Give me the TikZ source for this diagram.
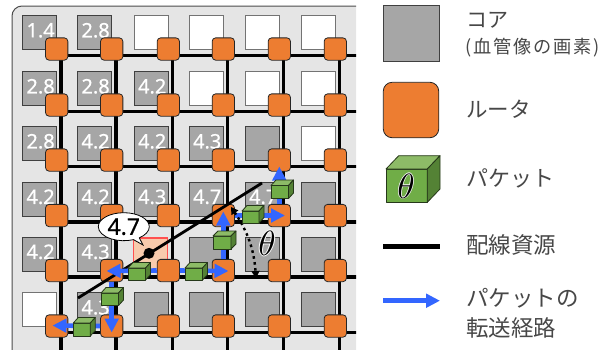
\documentclass[tikz,border=0pt]{standalone}
\usepackage{fontspec}
\setmainfont{Noto Sans}
\newfontfamily\numfont[FakeBold=0.6]{Noto Sans}
\newfontfamily\jpfont{Noto Sans CJK JP}
\newfontfamily\jpwide[LetterSpace=10]{Noto Sans CJK JP}
\usetikzlibrary{arrows.meta,shapes.callouts,shapes.geometric}
\definecolor{rorange}{HTML}{ED7D31}
\definecolor{coregray}{HTML}{A6A6A6}
\definecolor{pblue}{HTML}{3366FF}
\definecolor{hotfill}{HTML}{F8CBAD}
\definecolor{hotline}{HTML}{FF5050}
\definecolor{cubefront}{HTML}{70AD47}
\definecolor{cubetop}{HTML}{8DBB67}
\definecolor{cubeside}{HTML}{548235}
\definecolor{cubeline}{HTML}{26381A}
\tikzset{
  corebox/.style={draw=black!75,line width=0.9pt,fill=coregray,minimum size=34pt,inner sep=0pt,anchor=north west,
    text=white,font=\numfont\fontsize{20}{20}\selectfont},
  freecore/.style={corebox,fill=white,draw=black!55},
  hotcore/.style={corebox,fill=hotfill,draw=hotline,line width=1.6pt},
  router/.style={draw=black!85,line width=0.8pt,fill=rorange,rounded corners=3.5pt,minimum size=22.3pt,inner sep=0pt},
  wire/.style={line width=3.4pt,black},
  diag/.style={line width=2.8pt,black},
  route/.style={line width=4.6pt,pblue,-{Triangle[length=14pt,width=13.5pt]}},
  angle/.style={line width=2.4pt,black,dash pattern=on 2.6pt off 3.4pt,{Triangle[length=7pt,width=8pt]}-{Triangle[length=7pt,width=8pt]}},
  jp/.style={anchor=west,inner sep=0pt,text=black!72,font=\jpfont\fontsize{#1}{#1}\selectfont},
  pics/cube/.style n args={4}{code={
    \draw[draw=cubeline,line width=0.8pt,line join=round,fill=cubefront] (0,0) rectangle (#1,#2);
    \draw[draw=cubeline,line width=0.8pt,line join=round,fill=cubetop] (0,0) -- (#3,-#4) -- (#1+#3,-#4) -- (#1,0) -- cycle;
    \draw[draw=cubeline,line width=0.8pt,line join=round,fill=cubeside] (#1,0) -- (#1+#3,-#4) -- (#1+#3,#2-#4) -- (#1,#2) -- cycle;
  }}
}
\newcommand{\xc}[1]{\ifcase#1\or56.7\or111.7\or168.3\or223.3\or279.3\or335.3\fi}
\newcommand{\yc}[1]{\ifcase#1\or49\or105\or160\or215.5\or270.5\or326\fi}
\begin{document}
\begin{tikzpicture}[x=1pt,y=-1pt]
\useasboundingbox (0,0) rectangle (604,349);
\begin{scope}
\clip (0,0) rectangle (356,349);
\draw[draw=black!70,line width=1pt,fill=black!10,rounded corners=10pt] (12,6) rectangle (420,420);
% cores
\foreach \c/\r/\t in {1/1/1.4,2/1/2.8,1/2/2.8,2/2/2.8,3/2/4.2,1/3/2.8,2/3/4.2,3/3/4.2,4/3/4.3,5/3/,
  1/4/4.2,2/4/4.2,3/4/4.3,4/4/4.7,5/4/4.7,6/4/,1/5/4.2,2/5/4.3,4/5/,5/5/,6/5/,2/6/4.3,3/6/,4/6/,5/6/,6/6/}
  \node[corebox] (core\c\r) at ({\xc{\c}-34.3},{\yc{\r}-34}) {\raisebox{4.5pt}{\hspace{1.5pt}\t}};
\foreach \c/\r in {3/1,4/1,5/1,6/1,4/2,5/2,6/2,6/3,1/6}
  \node[freecore] (core\c\r) at ({\xc{\c}-34.3},{\yc{\r}-34}) {};
\node[hotcore] (core35) at (132.6,237) {};
% wires
\foreach \c in {1,...,6}
  \draw[wire] ({\xc{\c}+4.4},{\yc{1}}) -- ({\xc{\c}+4.4},352);
\foreach \r in {1,...,6}
  \draw[wire] ({\xc{1}},{\yc{\r}+6.5}) -- (360,{\yc{\r}+6.5});
% routers
\foreach \c in {1,...,6}
  \foreach \r in {1,...,6}
    \node[router] (r\c\r) at ({\xc{\c}},{\yc{\r}}) {};
% black line through the pixel
\coordinate (lineA) at (78,298);
\coordinate (lineB) at (262,183);
\draw[diag] (lineA) -- (lineB);
\node[circle,fill=black,minimum size=11pt,inner sep=0pt] (pt) at (149,253.3) {};
% angle
\coordinate (angA) at (231,207);
\coordinate (angB) at (256,278);
% routes
\coordinate (tipL) at (106.5,271);
\coordinate (tipR) at (228.5,271);
\coordinate (tipU) at (223.3,211.5);
\coordinate (tipR2) at (285,215.5);
\coordinate (tipU2) at (279.3,166.5);
\coordinate (tipD) at (111.7,332.5);
\coordinate (tipL2) at (52.5,325.5);
\draw[route] (r35.west) -- (tipL);
\draw[route] (r35.east) -- (tipR);
\draw[route] (r45.north) -- (tipU);
\draw[route] (r44.east) -- (tipR2);
\draw[route] (r54.north) -- (tipU2);
\draw[route] (r25.south) -- (tipD);
\draw[route] (r26.west) -- (tipL2);
\draw[angle] (angA) .. controls (248,232) and (254,250) .. (angB);
% packets
\pic at (128,268) {cube={17.5}{12}{5}{5.5}};
\pic at (185,268) {cube={17.5}{12}{5}{5.5}};
\pic at (213,236) {cube={18}{13}{5}{5}};
\pic at (242,211) {cube={17}{12}{5}{5.5}};
\pic at (271,185.5) {cube={17.5}{13}{5}{5.5}};
\pic at (101,293) {cube={17.5}{12.5}{5}{5.5}};
\pic at (73.3,323) {cube={17}{13}{5}{5.5}};
% bubble
\node[ellipse callout,draw=black,line width=0.8pt,fill=white,minimum width=51pt,minimum height=28pt,inner sep=0pt,
  callout absolute pointer={(143,245)},font=\numfont\fontsize{23}{23}\selectfont] (bubble) at (123.8,226.7) {4.7};
% theta
\node[scale=3.5,inner sep=0pt,text=white] (thetaH1) at (266,243) {$\theta$};
\node[scale=3.5,inner sep=0pt,text=white] (thetaH2) at (268,243) {$\theta$};
\node[scale=3.5,inner sep=0pt,text=white] (thetaH3) at (267,242) {$\theta$};
\node[scale=3.5,inner sep=0pt,text=white] (thetaH4) at (267,244) {$\theta$};
\node[scale=3.5,inner sep=0pt] (thetaMain) at (267,243) {$\theta$};
\end{scope}
% legend
\node[corebox,minimum size=56pt] (lgCore) at (383.3,5) {};
\node[router,minimum size=55.5pt,rounded corners=9pt] (lgRouter) at (411,110) {};
\pic at (386,169) {cube={41.3}{33.3}{12.7}{13.3}};
\node[scale=3.5,inner sep=0pt,text=white] (lgH1) at (405.2,186) {$\theta$};
\node[scale=3.5,inner sep=0pt,text=white] (lgH2) at (406.8,186) {$\theta$};
\node[scale=3.5,inner sep=0pt,text=white] (lgH3) at (406,185.2) {$\theta$};
\node[scale=3.5,inner sep=0pt,text=white] (lgH4) at (406,186.8) {$\theta$};
\node[scale=3.5,inner sep=0pt] (lgTheta) at (406,186) {$\theta$};
\coordinate (lgW1) at (383,246.7);
\coordinate (lgW2) at (440,246.7);
\draw[line width=4.6pt] (lgW1) -- (lgW2);
\coordinate (lgB1) at (383,300.7);
\coordinate (lgB2) at (440,300.7);
\draw[route] (lgB1) -- (lgB2);
\node[jp=21] (t1) at (466,20) {コア};
\node[jp=18.2,font=\jpwide\fontsize{18.2}{18.2}\selectfont] (t2) at (465,48) {(血管像の画素)};
\node[jp=21.5] (t3) at (466,109) {ルータ};
\node[jp=22] (t4) at (466,178) {パケット};
\node[jp=22.5] (t5) at (466,245) {配線資源};
\node[jp=22.5] (t6) at (466,298) {パケットの};
\node[jp=22.5] (t7) at (466,327.5) {転送経路};
\end{tikzpicture}
\end{document}
